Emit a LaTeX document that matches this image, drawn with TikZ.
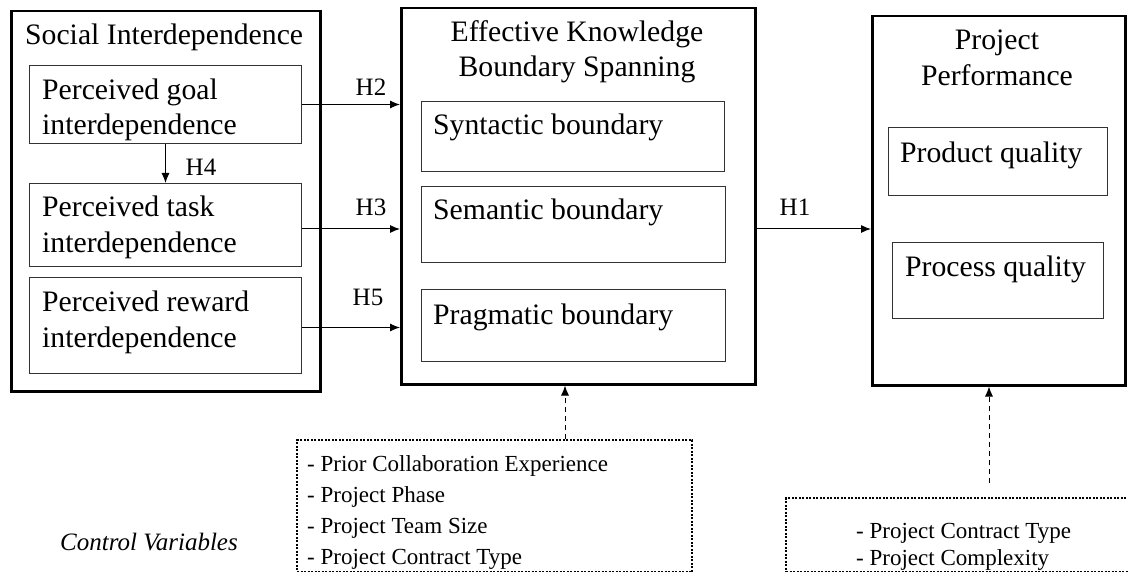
\documentclass[tikz,border=0pt]{standalone}
\usepackage{fontspec}
\setmainfont{Liberation Serif}
\usetikzlibrary{positioning, arrows.meta}

\tikzset{
  outerbox/.style={draw, line width=2.5pt, anchor=north west, inner sep=0pt},
  innerbox/.style={draw, line width=1pt, black!80, anchor=north west, inner sep=0pt},
  ctrlbox/.style={draw, line width=2pt, dash pattern=on 2pt off 1.5pt,
                  anchor=north west, inner sep=0pt},
  bigtxt/.style={font=\fontsize{29.7}{35}\selectfont, inner sep=0pt},
  hyplbl/.style={font=\fontsize{25}{30}\selectfont, inner sep=0pt},
  ctrltxt/.style={font=\fontsize{23}{31}\selectfont, inner sep=0pt, anchor=base west},
  hyparrow/.style={line width=1pt, -{Latex[length=10pt, width=8pt]}},
  ctrlarrow/.style={line width=1pt, dash pattern=on 5pt off 4pt,
                    -{Latex[length=10pt, width=8pt]}},
}

\begin{document}
\begin{tikzpicture}[x=1pt, y=-1pt]

  \useasboundingbox (0,0) rectangle (1128,572);

  %% ── Social interdependence ─────────────────────────────────
  \node[outerbox, minimum width=309pt, minimum height=380pt] (si) at (10,10) {};
  \node[bigtxt, anchor=base west] (sititle) at (25,45) {Social Interdependence};

  \node[innerbox, minimum width=272pt, minimum height=78pt] (goal) at (29,65) {};
  \node[bigtxt, anchor=base west] (goala) at (42,100) {Perceived goal};
  \node[bigtxt, anchor=base west] (goalb) at (42,135) {interdependence};

  \node[innerbox, minimum width=272pt, minimum height=83pt] (task) at (29,183) {};
  \node[bigtxt, anchor=base west] (taska) at (42,217) {Perceived task};
  \node[bigtxt, anchor=base west] (taskb) at (42,253) {interdependence};

  \node[innerbox, minimum width=272pt, minimum height=96pt] (reward) at (29,277) {};
  \node[bigtxt, anchor=base west] (rewarda) at (42,312) {Perceived reward};
  \node[bigtxt, anchor=base west] (rewardb) at (42,347) {interdependence};

  %% ── Effective knowledge boundary spanning ──────────────────
  \node[outerbox, minimum width=354pt, minimum height=376pt] (efs) at (400,7) {};
  \node[bigtxt, anchor=base] (efstitlea) at (577,42) {Effective Knowledge};
  \node[bigtxt, anchor=base] (efstitleb) at (577,77) {Boundary Spanning};

  \node[innerbox, minimum width=303pt, minimum height=70pt] (syn) at (421,101) {};
  \node[bigtxt, anchor=base west] (syntxt) at (433,135) {Syntactic boundary};
  \node[innerbox, minimum width=304pt, minimum height=76pt] (sem) at (421,186) {};
  \node[bigtxt, anchor=base west] (semtxt) at (433,220) {Semantic boundary};
  \node[innerbox, minimum width=304pt, minimum height=72pt] (prag) at (421,289) {};
  \node[bigtxt, anchor=base west] (pragtxt) at (433,325) {Pragmatic boundary};

  %% ── Project performance ────────────────────────────────────
  \node[outerbox, minimum width=253pt, minimum height=369pt] (pp) at (871,15) {};
  \node[bigtxt, anchor=base] (pptitlea) at (997,50) {Project};
  \node[bigtxt, anchor=base] (pptitleb) at (997,86) {Performance};

  \node[innerbox, minimum width=219pt, minimum height=68pt] (prod) at (888,127) {};
  \node[bigtxt, anchor=base west] (prodtxt) at (900,163) {Product quality};
  \node[innerbox, minimum width=211pt, minimum height=76pt] (proc) at (892,242) {};
  \node[bigtxt, anchor=base west] (proctxt) at (905,277) {Process quality};

  %% ── Hypotheses ─────────────────────────────────────────────
  \coordinate (hthree) at (0,229);
  \draw[hyparrow] (goal.south) -- (task.north);
  \draw[hyparrow] (goal.east) -- (goal.east -| efs.west);
  \draw[hyparrow] (task.east |- hthree) -- (efs.west |- hthree);
  \draw[hyparrow] ([yshift=-2pt]reward.east) -- ([yshift=-2pt]reward.east -| efs.west);
  \draw[hyparrow] (efs.east |- hthree) -- (pp.west |- hthree);

  \node[hyplbl] (hfour) at (201,167) {H4};
  \node[hyplbl] (htwo) at (371,87) {H2};
  \node[hyplbl] (hthreelbl) at (371,207) {H3};
  \node[hyplbl] (hfive) at (368,297) {H5};
  \node[hyplbl] (hone) at (795,207) {H1};

  %% ── Control variables ──────────────────────────────────────
  \node[ctrlbox, minimum width=395pt, minimum height=132pt] (ctrla) at (296,439) {};
  \node[ctrltxt] (ctrlaa) at (307,471) {- Prior Collaboration Experience};
  \node[ctrltxt] (ctrlab) at (307,502) {- Project Phase};
  \node[ctrltxt] (ctrlac) at (307,533) {- Project Team Size};
  \node[ctrltxt] (ctrlad) at (307,564) {- Project Contract Type};

  \node[ctrlbox, minimum width=350pt, minimum height=74pt] (ctrlb) at (785,497) {};
  \node[ctrltxt] (ctrlba) at (856,538) {- Project Contract Type};
  \node[ctrltxt] (ctrlbb) at (856,565) {- Project Complexity};

  \coordinate (ctrlaup) at (565,0);
  \coordinate (ctrlbup) at (989,483);
  \draw[ctrlarrow] (ctrla.north -| ctrlaup) -- (efs.south -| ctrlaup);
  \draw[ctrlarrow] (ctrlbup) -- (pp.south -| ctrlbup);

  \node[font=\fontsize{25}{30}\selectfont\itshape, inner sep=0pt, anchor=base west]
    (ctrllbl) at (60,550) {Control Variables};

\end{tikzpicture}
\end{document}
